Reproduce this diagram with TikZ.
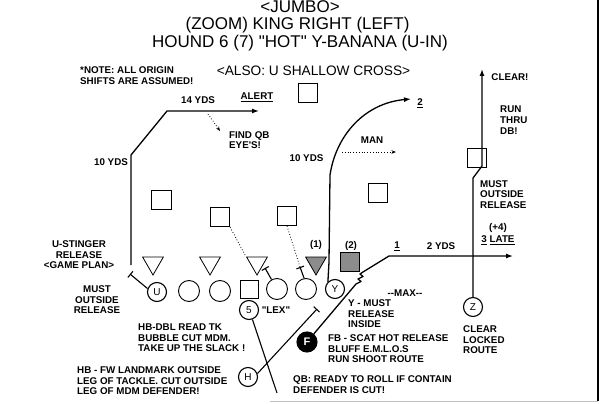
\documentclass[tikz,border=0pt]{standalone}
\usepackage{fontspec}
\setmainfont{Liberation Sans}
\usetikzlibrary{shapes.geometric,arrows.meta}
\begin{document}
\begin{tikzpicture}[x=1pt,y=-1pt,
  lbl/.style={font=\fontsize{9.8}{10.6}\selectfont\bfseries, inner sep=0pt, align=left, anchor=north west},
  clbl/.style={font=\fontsize{9.8}{10.6}\selectfont\bfseries, inner sep=0pt, align=center, anchor=north},
  tl/.style={font=\fontsize{9.8}{10.6}\selectfont\bfseries, inner sep=0pt},
  ttl/.style={font=\fontsize{17}{19}\selectfont, inner sep=0pt, anchor=base},
  dbox/.style={rectangle, draw, line width=0.8pt, minimum size=19.5pt, inner sep=0pt},
  dtri/.style={regular polygon, regular polygon sides=3, shape border rotate=180, draw, line width=0.8pt, minimum size=24pt, inner sep=0pt},
  oline/.style={circle, draw, line width=0.9pt, minimum size=21pt, inner sep=0pt},
  skill/.style={circle, draw, line width=1.1pt, minimum size=19pt, inner sep=0pt, font=\fontsize{10}{10}\selectfont},
  shaded/.style={fill=black!45},
  route/.style={line width=1.3pt},
  arr/.style={route, -{Latex[length=7pt,width=5pt]}},
  blk/.style={line width=1.1pt, -{Bar[width=8pt]}},
  dots/.style={line width=0.8pt, dotted},
  dotarr/.style={dots, -{Stealth[length=4.5pt,width=3.5pt]}}
]
\useasboundingbox (0,0) rectangle (600,404);
\fill[white] (0,0) rectangle (600,404);
% frame
\draw[line width=1.2pt] (598,0) -- (598,401);
\draw[black!25, line width=1.5pt] (270,401.5) -- (598,401.5);

% titles
\node[ttl] (t1) at (300,12.8) {<JUMBO>};
\node[ttl] (t2) at (297.5,29.5) {(ZOOM) KING RIGHT (LEFT)};
\node[ttl] (t3) at (300,48) {HOUND 6 (7) \textquotedbl HOT\textquotedbl{} Y-BANANA (U-IN)};
\node[font=\fontsize{13.7}{16}\selectfont, inner sep=0pt, anchor=base] (t4) at (313.5,75.5) {<ALSO: U SHALLOW CROSS>};

% defenders: boxes
\node[dbox] (b1) at (308,93) {};
\node[dbox] (b2) at (161.5,200) {};
\node[dbox] (b3) at (220,217) {};
\node[dbox] (b4) at (287,216) {};
\node[dbox] (b5) at (378,193) {};
\node[dbox] (b6) at (477,158) {};
\node[dbox, shaded] (b7) at (350,262) {};
% defenders: triangles
\node[dtri] (d1) at (153,263) {};
\node[dtri] (d2) at (210,263) {};
\node[dtri] (d3) at (257,263) {};
\node[dtri, shaded] (d4) at (316,263) {};

% offense
\node[skill] (U) at (157,292) {U};
\node[oline] (o1) at (189,291) {};
\node[oline] (o2) at (220,291) {};
\node[rectangle, draw, line width=0.9pt, minimum size=18pt, inner sep=0pt] (C) at (249,289) {};
\node[oline] (o3) at (277,289) {};
\node[oline] (o4) at (306,289) {};
\node[skill] (Y) at (335,289) {Y};
\node[skill] (Q5) at (249,310) {5};
\node[skill] (H) at (248,377) {H};
\node[circle, fill=black, draw, line width=1.1pt, minimum size=20pt, inner sep=0pt, text=white, font=\fontsize{11}{11}\selectfont\bfseries] (F) at (307,342) {F};
\node[skill] (Z) at (473,307) {Z};

% U route
\coordinate (u0) at (131,265);
\coordinate (u1) at (131,155);
\coordinate (u2) at (167,111);
\coordinate (u3) at (259,111);
\draw[arr, line join=round] (u0) -- (u1) -- (u2) -- (u3);
% U stinger release
\coordinate (us) at (130,274);
\draw[blk] (U.160) .. controls (142,284) .. (us);

% Y route
\coordinate (y1) at (329,262);
\coordinate (y2) at (330,175);
\coordinate (y3) at (411,99);
\draw[arr, line join=round] (Y.north west) -- (y1) -- (y2) .. controls (336,135) and (365,103) .. (y3);

% Z route
\coordinate (z1) at (473,178);
\coordinate (z2) at (482,166);
\coordinate (z3) at (482,69);
\draw[arr, line join=round] (Z.north) -- (z1) -- (z2) -- (z3);

% F route with zigzag
\coordinate (f1) at (356,284);
\coordinate (f2) at (361,281.5);
\coordinate (f3) at (358,279);
\coordinate (f4) at (363,276.5);
\coordinate (f5) at (360,274);
\coordinate (f6) at (363,272);
\coordinate (f7) at (389,256);
\coordinate (f8) at (513,256);
\draw[arr, line join=round] (F.50) -- (f1) -- (f2) -- (f3) -- (f4) -- (f5) -- (f6) -- (f7) -- (f8);

% H route and block
\coordinate (hb) at (317,309);
\draw[blk] (H.20) -- (hb);
% 5 line
\coordinate (q5e) at (277,393);
\draw[line width=1.1pt] (Q5.-70) -- (q5e);

% line blocks
\coordinate (o3b) at (265,268);
\coordinate (o4b) at (300,267);
\draw[blk] (o3.120) -- (o3b);
\draw[blk] (o4.100) -- (o4b);

% dotted reads
\draw[dots] (b3.south east) -- (d3.corner 3);
\draw[dots] (b4.south) -- (o4b);
\coordinate (m0) at (342,152);
\coordinate (m1) at (396,152);
\draw[dotarr] (m0) -- (m1);
\coordinate (fq0) at (208,114);
\coordinate (fq1) at (220,131);
\draw[dotarr] (fq0) -- (fq1);

% labels
\node[lbl] (note) at (80,66.5) {*NOTE: ALL ORIGIN\\SHIFTS ARE ASSUMED!};
\node[tl] (l14) at (198,100.5) {14 YDS};
\node[tl] (alert) at (257,97) {\underline{ALERT}};
\node[lbl] (findqb) at (229,131) {FIND QB\\EYE\textquotesingle S!};
\node[tl] (l10a) at (111,162) {10 YDS};
\node[tl] (l10b) at (306.5,158) {10 YDS};
\node[tl] (man) at (372,140) {MAN};
\node[tl] (two) at (420,103) {\underline{2}};
\node[tl] (clear) at (510,77) {CLEAR!};
\node[lbl] (run) at (500,106) {RUN\\THRU\\DB!};
\node[lbl] (mustr) at (480,180) {MUST\\OUTSIDE\\RELEASE};
\node[tl] (p4) at (498,228) {(+4)};
\node[tl] (late) at (498,240.5) {\underline{3} \underline{LATE}};
\node[tl] (one) at (397,246) {\underline{1}};
\node[tl] (yds2) at (441,246.5) {2 YDS};
\node[tl] (n1) at (316,245) {(1)};
\node[tl] (n2) at (351,246) {(2)};
\node[clbl] (sting) at (79,240.5) {U-STINGER\\RELEASE\\<GAME PLAN>};
\node[clbl] (mustl) at (97,285.5) {MUST\\OUTSIDE\\RELEASE};
\node[tl] (lex) at (276,310) {\textquotedbl LEX\textquotedbl};
\node[tl] (max) at (405,293) {-{}-MAX-{}-};
\node[lbl] (ymust) at (348,299.5) {Y - MUST\\RELEASE\\INSIDE};
\node[lbl] (hbdbl) at (138,323.5) {HB-DBL READ TK\\BUBBLE CUT MDM.\\TAKE UP THE SLACK !};
\node[lbl] (fbscat) at (328,334.5) {FB - SCAT HOT RELEASE\\BLUFF E.M.L.O.S\\RUN SHOOT ROUTE};
\node[lbl] (clr) at (463,325.5) {CLEAR\\LOCKED\\ROUTE};
\node[lbl] (hbfw) at (77,366.5) {HB - FW LANDMARK OUTSIDE\\LEG OF TACKLE. CUT OUTSIDE\\LEG OF MDM DEFENDER!};
\node[lbl] (qb) at (293,375.5) {QB: READY TO ROLL IF CONTAIN\\DEFENDER IS CUT!};
\end{tikzpicture}
\end{document}
